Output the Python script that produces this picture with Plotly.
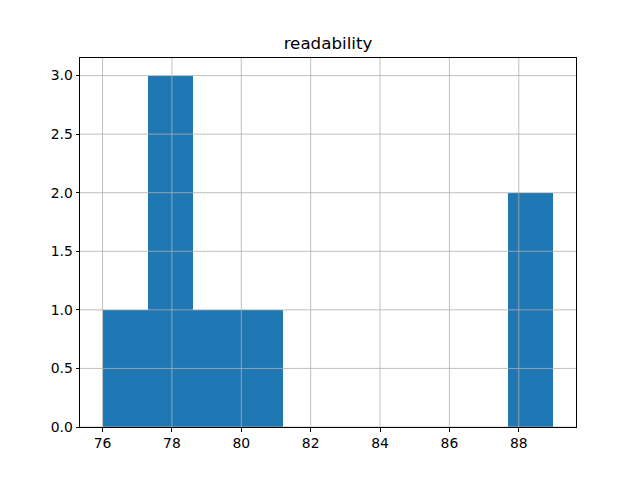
import numpy as np
import plotly.graph_objects as go

# readability scores (8 documents)
readability = [76.0, 77.5, 77.9, 78.3, 79.2, 80.5, 88.0, 89.0]
n_bins = 10
x_ticks = [76, 78, 80, 82, 84, 86, 88]
y_ticks = [0.0, 0.5, 1.0, 1.5, 2.0, 2.5, 3.0]
y_tick_labels = ["0.0", "0.5", "1.0", "1.5", "2.0", "2.5", "3.0"]

counts, edges = np.histogram(readability, bins=n_bins)
centers = (edges[:-1] + edges[1:]) / 2
width = edges[1] - edges[0]

fig = go.Figure()
fig.add_trace(go.Bar(x=centers, y=counts, width=width,
                     marker=dict(color="#1f77b4", line=dict(width=0)),
                     showlegend=False))

lo, hi = edges[0], edges[-1]
pad = (hi - lo) * 0.05
ymax = counts.max() * 1.05

shapes = []
for t in x_ticks:
    shapes.append(dict(type="line", xref="x", yref="paper", x0=t, x1=t, y0=0, y1=1,
                       line=dict(color="#b0b0b0", width=0.8), layer="above"))
for t in y_ticks:
    shapes.append(dict(type="line", xref="paper", yref="y", x0=0, x1=1, y0=t, y1=t,
                       line=dict(color="#b0b0b0", width=0.8), layer="above"))

font = "DejaVu Sans"
fig.update_layout(
    width=640, height=480,
    margin=dict(l=72, r=72, t=50, b=61),
    paper_bgcolor="white", plot_bgcolor="white",
    bargap=0,
    font=dict(family=font, size=13.9, color="black"),
    title=dict(text="readability", x=0.5, xref="paper", xanchor="center",
               y=1 - 35 / 480, yref="container", yanchor="middle",
               font=dict(family=font, size=16.7, color="black")),
    shapes=shapes,
    xaxis=dict(range=[lo - pad, hi + pad], tickvals=x_ticks, showgrid=False,
               zeroline=False, showline=True, linecolor="black", linewidth=1,
               mirror=True, ticks="outside", ticklen=3.5, tickcolor="black",
               tickwidth=0.8),
    yaxis=dict(range=[0, ymax], tickvals=y_ticks, ticktext=y_tick_labels,
               showgrid=False, zeroline=False, showline=True, linecolor="black",
               linewidth=1, mirror=True, ticks="outside", ticklen=3.5,
               tickcolor="black", tickwidth=0.8),
)

fig.write_html("out.html")
